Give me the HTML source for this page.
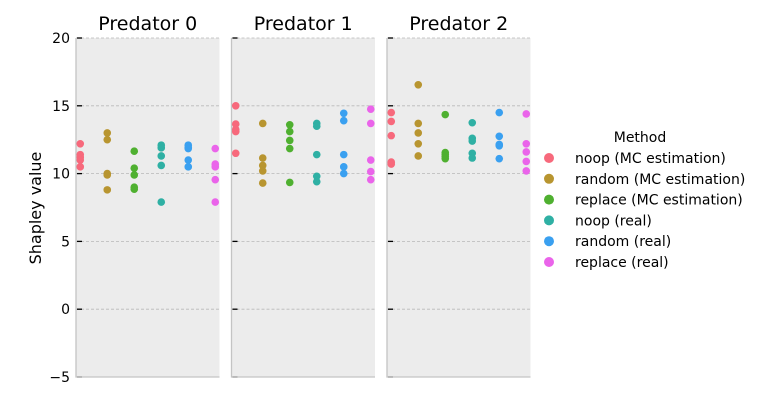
<!DOCTYPE html>
<html><head><meta charset="utf-8"><style>
body{margin:0;background:#fff;}
svg{display:block;font-family:"DejaVu Sans","Liberation Sans",sans-serif;}
</style></head><body>
<svg id="chart" width="757" height="400" xmlns="http://www.w3.org/2000/svg"></svg>
<script>
const panels = ["Predator 0","Predator 1","Predator 2"];
const methods = ["noop (MC estimation)","random (MC estimation)","replace (MC estimation)","noop (real)","random (real)","replace (real)"];
const colors = ["#f7697c","#b89530","#4fb030","#2fb0a4","#3aa0f0","#ea64ea"];
const yTicks = [20,15,10,5,0,-5];
const values0 = [
 [12.2,11.4,11.2,11.0,10.5],
 [13.0,12.5,10.0,9.9,8.8],
 [11.65,10.4,9.9,9.0,8.85],
 [12.1,11.9,11.3,10.6,7.9],
 [12.1,11.95,11.85,11.0,10.5],
 [11.85,10.7,10.5,9.55,7.9]
];
const values1 = [
 [15.0,13.65,13.25,13.1,11.5],
 [13.7,11.15,10.6,10.2,9.3],
 [13.6,13.1,12.45,11.85,9.35],
 [13.7,13.5,11.4,9.8,9.4],
 [14.45,13.9,11.4,10.5,10.0],
 [14.75,13.7,11.0,10.15,9.55]
];
const values2 = [
 [14.5,13.85,12.8,10.85,10.7],
 [16.55,13.7,13.0,12.2,11.3],
 [14.35,11.55,11.4,11.25,11.1],
 [13.75,12.6,12.4,11.5,11.15],
 [14.5,12.75,12.15,12.05,11.1],
 [14.4,12.2,11.6,10.9,10.2]
];
const allValues = [values0, values1, values2];

const NS="http://www.w3.org/2000/svg";
const svg=document.getElementById('chart');
function mk(tag, attrs, parent){const e=document.createElementNS(NS,tag);for(const k in attrs)e.setAttribute(k,attrs[k]);(parent||svg).appendChild(e);return e;}
const panelX0=[76,231.5,387], panelW=143.5;
const yTop=38, yBot=377, yMin=-5, yMax=20;
function yScale(v){return yBot-(v-yMin)/(yMax-yMin)*(yBot-yTop);}
function xScale(p,i){return panelX0[p]+panelW/2+(i-2.5)*27;}

panels.forEach((name,p)=>{
  const g=mk('g',{});
  
  
  const bg=mk('rect',{x:panelX0[p],y:yTop,width:panelW,height:yBot-yTop,fill:'#ececec'},g);
  
  
  yTicks.forEach(t=>{
    const y=yScale(t);
    if(t>yMin){const gl=mk('line',{x1:panelX0[p],x2:panelX0[p]+panelW,y1:y,y2:y,stroke:'#b8b8b8','stroke-width':0.8,'stroke-dasharray':'3,2'},g);
    
    }
    const tk=mk('line',{x1:panelX0[p]+1,x2:panelX0[p]+6,y1:y,y2:y,stroke:'#000','stroke-width':1.3},g);
    
    
    if(p===0){const tl=mk('text',{x:70,y:y+5,'text-anchor':'end','font-size':14,fill:'#000'},g);tl.textContent=(t<0?'\u2212'+(-t):t);
    
    }
  });
  const sp=mk('path',{d:`M${panelX0[p]},${yTop} V${yBot} H${panelX0[p]+panelW}`,stroke:'#c4c4c4','stroke-width':1.3,fill:'none'},g);
  
  
  const tt=mk('text',{x:panelX0[p]+panelW/2,y:30,'text-anchor':'middle','font-size':19,fill:'#000'},g);
  tt.textContent=name;
  
  
  allValues[p].forEach((series,i)=>{
    series.forEach(v=>{
      const c=mk('circle',{cx:xScale(p,i),cy:yScale(v),r:3.8,fill:colors[i]},g);
      
      
    });
  });
});
const yl=mk('text',{x:0,y:0,transform:'translate(41,208) rotate(-90)','text-anchor':'middle','font-size':16,fill:'#000'});
yl.textContent='Shapley value';



const lg=mk('g',{});


const lt=mk('text',{x:640,y:142,'text-anchor':'middle','font-size':14,fill:'#000'},lg);
lt.textContent='Method';


methods.forEach((m,i)=>{
  const y=158+i*20.8;
  const e=mk('g',{},lg);
  
  
  mk('circle',{cx:549,cy:y,r:5,fill:colors[i]},e);
  const t=mk('text',{x:575,y:y+5,'font-size':14,fill:'#000'},e);
  t.textContent=m;
});
</script>
</body></html>
